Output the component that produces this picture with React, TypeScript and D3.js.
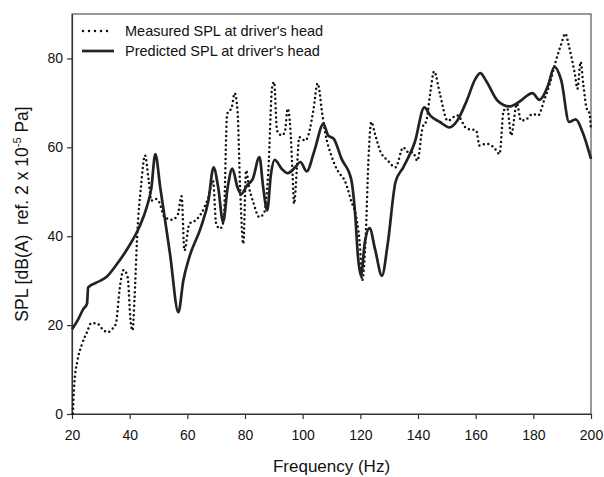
import React, { useRef, useEffect } from 'react'
import * as d3 from 'd3'

// predicted SPL (solid)
const predFreq = [20, 21.9, 23.9, 25.2, 25.6, 28.6, 31.9, 35.2, 39.9, 43.3, 45.9, 47.5, 48.9, 50.6, 54.0, 56.9, 58.6, 60.7, 64.7, 67.3, 69.1, 70.7, 72.4, 74.0, 75.6, 77.4, 78.7, 80.7, 82.7, 85.0, 86.3, 87.7, 89.0, 90.3, 92.7, 94.8, 97.4, 99.2, 101.4, 104.1, 107.2, 108.8, 110.8, 113.5, 116.8, 118.2, 119.2, 120.2, 121.5, 123.2, 125.1, 127.5, 129.5, 132.2, 134.9, 138.9, 142.2, 144.2, 147.6, 150.9, 153.6, 156.9, 159.9, 161.6, 163.6, 167.6, 171.7, 175.0, 179.7, 182.1, 185.1, 187.3, 189.7, 192.4, 194.7, 197.1, 200]
const predSpl = [19.1, 21.0, 23.6, 24.8, 28.5, 29.6, 30.8, 33.4, 37.9, 42.0, 46.5, 50.7, 58.5, 51.0, 36.0, 22.9, 30.0, 35.3, 42.0, 48.0, 55.5, 51.0, 43.2, 51.0, 55.2, 51.0, 49.5, 51.4, 52.9, 57.8, 51.0, 45.8, 54.0, 57.2, 55.2, 54.2, 55.5, 56.7, 54.6, 59.3, 65.3, 62.7, 61.9, 57.4, 52.9, 45.0, 35.3, 31.1, 38.3, 41.8, 37.1, 31.1, 38.3, 52.2, 55.5, 61.2, 69.0, 67.2, 65.7, 64.5, 66.0, 70.5, 75.4, 76.7, 75.0, 70.5, 69.2, 70.2, 72.2, 70.7, 73.9, 78.1, 75.0, 65.7, 66.3, 63.4, 57.4]

// measured SPL (dotted)
const measFreq = [20.3, 20.8, 21.9, 23.5, 25.2, 26.6, 28.6, 30.6, 32.3, 33.9, 35.2, 36.6, 37.9, 39.3, 40.3, 41.0, 41.7, 42.7, 43.9, 45.3, 46.6, 47.5, 48.9, 50.2, 52.0, 54.6, 56.6, 58.0, 59.0, 60.7, 62.7, 64.7, 67.3, 68.9, 70.0, 71.3, 72.6, 73.8, 75.4, 76.4, 77.4, 78.3, 79.4, 80.4, 81.4, 82.7, 85.0, 86.7, 88.1, 89.4, 90.1, 91.1, 92.7, 93.8, 94.8, 95.7, 96.5, 97.0, 98.1, 98.8, 100.8, 102.1, 103.7, 105.2, 106.8, 107.9, 109.9, 112.1, 114.8, 116.8, 118.8, 119.9, 120.6, 121.9, 122.8, 123.8, 125.1, 126.8, 129.5, 132.2, 134.9, 136.6, 138.2, 139.8, 141.6, 142.9, 144.2, 145.6, 147.6, 150.3, 153.6, 156.9, 160.2, 161.3, 163.6, 166.3, 168.3, 169.7, 171.0, 172.3, 174.3, 175.7, 177.7, 179.7, 181.7, 183.7, 185.7, 187.7, 189.7, 191.1, 192.4, 194.4, 195.3, 196.4, 197.3, 198.4, 199.5, 200]
const measSpl = [0.1, 6.8, 12.0, 15.8, 18.4, 20.4, 20.4, 19.1, 18.4, 19.1, 20.3, 28.5, 32.4, 30.8, 21.0, 18.8, 26.3, 41.3, 51.0, 58.2, 52.5, 48.0, 48.4, 47.7, 44.4, 43.7, 44.7, 49.0, 36.8, 42.8, 43.5, 45.0, 48.8, 52.5, 42.8, 41.7, 43.5, 67.5, 69.0, 72.2, 68.3, 51.0, 38.3, 54.8, 51.0, 48.0, 44.3, 45.4, 54.8, 73.5, 74.7, 63.8, 62.7, 63.4, 68.7, 64.5, 54.0, 47.3, 56.3, 62.3, 61.5, 63.0, 68.3, 74.4, 67.5, 63.0, 58.2, 54.8, 52.2, 48.0, 43.5, 37.5, 30.0, 40.5, 57.0, 65.7, 63.0, 59.3, 57.0, 55.5, 60.0, 58.9, 58.9, 57.0, 64.5, 66.0, 72.0, 77.1, 72.0, 66.0, 67.2, 64.2, 63.8, 60.4, 60.8, 60.0, 58.5, 68.3, 68.7, 62.7, 69.8, 66.0, 66.4, 67.5, 67.2, 70.5, 74.3, 79.2, 83.3, 85.6, 82.6, 76.5, 73.2, 79.2, 74.3, 69.0, 67.5, 63.8]

const xTicks = [20, 40, 60, 80, 100, 120, 140, 160, 180, 200]
const yTicks = [0, 20, 40, 60, 80]
const legendLabels = ["Measured SPL at driver's head", "Predicted SPL at driver's head"]

const W = 604
const H = 477

const App = () => {
  const svgRef = useRef<SVGSVGElement>(null)

  useEffect(() => {
    const margin = { top: 14, right: 13, bottom: 63, left: 72 }
    const x = d3.scaleLinear().domain([20, 200]).range([margin.left, W - margin.right])
    const y = d3.scaleLinear().domain([0, 90]).range([H - margin.bottom, margin.top])

    const svg = d3.select(svgRef.current)
    svg.selectAll('*').remove()
    const font = 'Arial, "Liberation Sans", sans-serif'

    // frame
    svg.append('rect')
      .attr('x', x(20)).attr('y', y(90))
      .attr('width', x(200) - x(20)).attr('height', y(0) - y(90))
      .attr('fill', 'none').attr('stroke', '#555').attr('stroke-width', 1.2)

    const xAxis = svg.append('g')
      .attr('transform', `translate(0,${y(0)})`)
      .call(d3.axisBottom(x).tickValues(xTicks).tickSize(5).tickPadding(11).tickSizeOuter(0))
    const yAxis = svg.append('g')
      .attr('transform', `translate(${x(20)},0)`)
      .call(d3.axisLeft(y).tickValues(yTicks).tickSize(5).tickPadding(4).tickSizeOuter(0))
    ;[xAxis, yAxis].forEach((g) => {
      g.selectAll('.domain').attr('stroke', '#333').attr('stroke-width', 1.2)
      g.selectAll('line').attr('stroke', '#333').attr('stroke-width', 1.2)
      g.selectAll('text').attr('font-family', font).attr('font-size', 14).attr('fill', '#111')
    })

    const measured = measFreq.map((f, i) => [f, measSpl[i]] as [number, number])
    const predicted = predFreq.map((f, i) => [f, predSpl[i]] as [number, number])
    const line = d3.line<[number, number]>()
      .x((d) => x(d[0]))
      .y((d) => y(d[1]))
      .curve(d3.curveMonotoneX)

    svg.append('path')
      .datum(measured)
      .attr('d', line)
      .attr('fill', 'none')
      .attr('stroke', '#111')
      .attr('stroke-width', 2.5)
      .attr('stroke-linecap', 'round')
      .attr('stroke-dasharray', '0 4.6')

    svg.append('path')
      .datum(predicted)
      .attr('d', line)
      .attr('fill', 'none')
      .attr('stroke', '#222')
      .attr('stroke-width', 2.7)
      .attr('stroke-linejoin', 'round')

    // legend
    const lg = svg.append('g')
    lg.append('line')
      .attr('x1', 83).attr('x2', 113).attr('y1', 31).attr('y2', 31)
      .attr('stroke', '#111').attr('stroke-width', 2.5)
      .attr('stroke-linecap', 'round').attr('stroke-dasharray', '0 6')
    lg.append('line')
      .attr('x1', 82).attr('x2', 114).attr('y1', 51).attr('y2', 51)
      .attr('stroke', '#222').attr('stroke-width', 2.7)
    lg.selectAll('text')
      .data(legendLabels)
      .join('text')
      .attr('x', 125)
      .attr('y', (d, i) => 36 + i * 20)
      .attr('font-family', font)
      .attr('font-size', 14.5)
      .attr('fill', '#111')
      .text((d) => d)

    // axis titles
    svg.append('text')
      .attr('x', (x(20) + x(200)) / 2)
      .attr('y', 472)
      .attr('text-anchor', 'middle')
      .attr('font-family', font)
      .attr('font-size', 17)
      .attr('fill', '#111')
      .text('Frequency (Hz)')

    const yl = svg.append('text')
      .attr('transform', `translate(28,${(y(0) + y(90)) / 2}) rotate(-90)`)
      .attr('text-anchor', 'middle')
      .attr('font-family', font)
      .attr('font-size', 17.5)
      .attr('fill', '#111')
    yl.append('tspan').text('SPL [dB(A)\u00a0\u00a0ref. 2 x 10')
    yl.append('tspan').attr('font-size', 11).attr('dy', -7).text('-5')
    yl.append('tspan').attr('dy', 7).text(' Pa]')
  }, [])

  return (
    <>
      <style>{'body{margin:0}'}</style>
      <svg ref={svgRef} width={W} height={H} style={{ display: 'block', background: '#fff' }} />
    </>
  )
}

export default App
